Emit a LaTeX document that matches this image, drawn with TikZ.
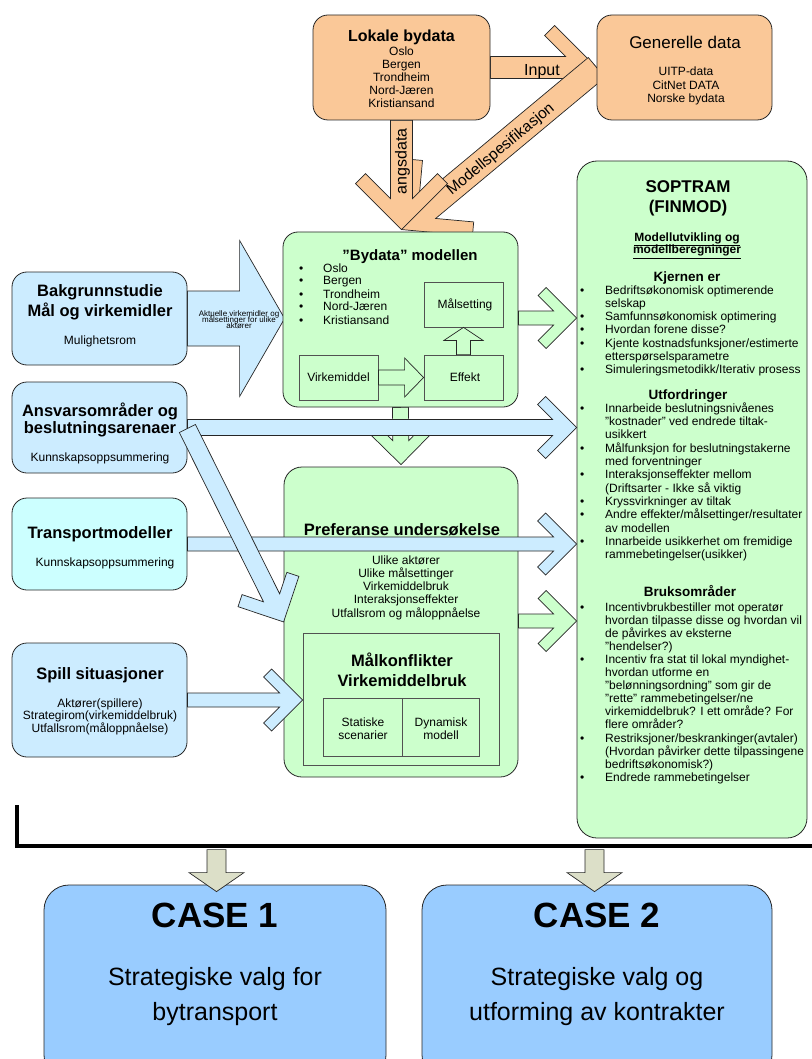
\documentclass[tikz,border=0pt]{standalone}
\usepackage{fontspec}
\setmainfont{Liberation Sans}
\usetikzlibrary{calc}
\definecolor{orfill}{HTML}{FAC898}
\definecolor{grfill}{HTML}{CCFFCC}
\definecolor{blfill}{HTML}{CCECFF}
\definecolor{cyfill}{HTML}{CCFFFF}
\definecolor{csfill}{HTML}{99CCFF}
\definecolor{gyfill}{HTML}{DCDFC8}
\definecolor{lncol}{HTML}{262626}
\pgfdeclarelayer{back}
\pgfsetlayers{back,main}
\newdimen\ChXa \newdimen\ChYa \newdimen\ChXb \newdimen\ChYb
\newcommand\fs[2]{\fontsize{#1}{#2}\selectfont}
\newcommand\blines[4]{\parbox[t]{#1}{\fontsize{#2}{#3}\selectfont\lineskiplimit=-100pt\lineskip=0pt\relax#4}}
\newcommand\bul[1][21pt]{\leavevmode\llap{\textbullet\hspace{#1}}}
\newcommand\ArrGeom[2]{%
  \pgfextractx{\ChXa}{\pgfpointanchor{#1}{center}}%
  \pgfextracty{\ChYa}{\pgfpointanchor{#1}{center}}%
  \pgfextractx{\ChXb}{\pgfpointanchor{#2}{center}}%
  \pgfextracty{\ChYb}{\pgfpointanchor{#2}{center}}%
  \pgfmathsetmacro\ChAng{atan2(\ChYb-\ChYa,\ChXb-\ChXa)}%
  \pgfmathsetmacro\ChL{veclen(\ChXb-\ChXa,\ChYb-\ChYa)}}
% chevron-headed block arrow: style, from, to, half body width, head size, head bar offset
\newcommand\chevarrow[6]{%
  \ArrGeom{#2}{#3}%
  \pgfmathsetmacro\ChJ{\ChL-2*#6-#4}%
  \pgfmathsetmacro\ChWi{\ChL-#5-#6}%
  \pgfmathsetmacro\ChWo{\ChL-#5}%
  \pgfmathsetmacro\ChHi{#5-#6}%
  \begin{scope}[shift={(#2)},rotate=\ChAng]
    \draw[#1] (0pt,-#4pt) -- (\ChJ pt,-#4pt) -- (\ChWi pt,-\ChHi pt) -- (\ChWo pt,-#5pt) -- (\ChL pt,0pt) -- (\ChWo pt,#5pt) -- (\ChWi pt,\ChHi pt) -- (\ChJ pt,#4pt) -- (0pt,#4pt) -- cycle;
  \end{scope}}
% plain block arrow: style, from, to, half body width, half head width, head length
\newcommand\blockarrow[6]{%
  \ArrGeom{#2}{#3}%
  \pgfmathsetmacro\ChB{\ChL-#6}%
  \begin{scope}[shift={(#2)},rotate=\ChAng]
    \draw[#1] (0pt,-#4pt) -- (\ChB pt,-#4pt) -- (\ChB pt,-#5pt) -- (\ChL pt,0pt) -- (\ChB pt,#5pt) -- (\ChB pt,#4pt) -- (0pt,#4pt) -- cycle;
  \end{scope}}
\begin{document}
\begin{tikzpicture}[x=1pt,y=-1pt,
  box/.style={draw=lncol, line width=0.8pt, rounded corners=15pt, inner sep=0pt},
  sqbox/.style={draw=lncol!80, line width=0.8pt, inner sep=0pt},
  arr/.style={draw=lncol, line width=0.7pt, line join=miter},
  T/.style={inner sep=0pt, anchor=base},
  TL/.style={inner sep=0pt, anchor=base west}]
\useasboundingbox (0,0) rectangle (811,1059);

% ---------- top orange boxes
\node[box, fill=orfill, minimum width=177pt, minimum height=105pt] (lok) at (401.5,67.5) {};
\node[T, font=\bfseries\fs{16}{16}] (lokt) at (401.5,42) {Lokale bydata};
\node[T] (loki) at (401.5,56) {\blines{150pt}{12}{13}{\centering Oslo\\Bergen\\Trondheim\\Nord-Jæren\\Kristiansand}};
\node[box, fill=orfill, minimum width=175pt, minimum height=105pt] (gen) at (684.5,67.5) {};
\node[T, font=\fs{17}{17}] (gent) at (685,48.5) {Generelle data};
\node[T] (geni) at (686,76) {\blines{150pt}{12}{13.5}{\centering UITP-data\\CitNet DATA\\Norske bydata}};

% ---------- Bydata model
\node[box, fill=grfill, minimum width=235pt, minimum height=175pt] (byd) at (400.5,319.5) {};
\node[T, font=\bfseries\fs{15}{15}] (bydt) at (410,260) {”Bydata” modellen};
\node[TL] (bydi) at (323,272) {\blines{150pt}{12}{13}{\raggedright\bul[20pt]Oslo\\\bul[20pt]Bergen\\\bul[20pt]Trondheim\\\bul[20pt]Nord-Jæren\\\bul[20pt]Kristiansand}};
\node[sqbox, fill=grfill, minimum width=79pt, minimum height=45pt] (mal) at (463.5,304.5) {};
\node[T, font=\fs{12}{12}] (malt) at (465,308.5) {Målsetting};
\node[sqbox, fill=grfill, minimum width=79pt, minimum height=45pt] (virk) at (338.5,377.5) {};
\node[T, font=\fs{12}{12}] (virkt) at (338.5,381.5) {Virkemiddel};
\node[sqbox, fill=grfill, minimum width=79pt, minimum height=45pt] (eff) at (463.5,377.5) {};
\node[T, font=\fs{12}{12}] (efft) at (465,381.5) {Effekt};
\coordinate (ve1) at (virk.east); \coordinate (ve2) at (eff.west);
\blockarrow{arr, fill=grfill}{ve1}{ve2}{7.5}{19.5}{19}
\coordinate (em1) at (eff.north); \coordinate (em2) at (mal.south);
\blockarrow{arr, fill=grfill}{em1}{em2}{7}{19.5}{13}

% ---------- Preferanse
\node[box, rounded corners=18pt, fill=grfill, minimum width=234pt, minimum height=310pt] (pref) at (401,622) {};
\node[T] (prefi) at (406,564) {\blines{200pt}{12}{13.25}{\centering Ulike aktører\\Ulike målsettinger\\Virkemiddelbruk\\Interaksjonseffekter\\Utfallsrom og måloppnåelse}};
\node[sqbox, fill=grfill, minimum width=196pt, minimum height=132pt] (mk) at (401,699) {};
\node[T] (mkt) at (402,666) {\blines{190pt}{16.5}{20}{\centering\bfseries Målkonflikter\\Virkemiddelbruk}};
\node[sqbox, fill=grfill, minimum width=79pt, minimum height=58pt] (stat) at (362.5,727) {};
\node[T] (statt) at (363,726) {\blines{75pt}{12}{13}{\centering Statiske\\scenarier}};
\node[sqbox, fill=grfill, minimum width=77pt, minimum height=58pt] (dyn) at (440.5,727) {};
\node[T] (dynt) at (441,726) {\blines{75pt}{12}{13}{\centering Dynamisk\\modell}};

% ---------- left boxes
\node[box, fill=blfill, minimum width=175pt, minimum height=93pt] (bak) at (99.5,318.5) {};
\node[T] (bakt) at (100,296) {\blines{170pt}{16.5}{20}{\centering\bfseries Bakgrunnstudie\\Mål og virkemidler}};
\node[T, font=\fs{12}{12}] (bakm) at (100,344) {Mulighetsrom};
\node[box, fill=blfill, minimum width=175pt, minimum height=91pt] (ans) at (99.5,427.5) {};
\node[T] (anst) at (100,416) {\blines{174pt}{16.5}{17}{\centering\bfseries Ansvarsområder og\\beslutningsarenaer}};
\node[T, font=\fs{12}{12}] (ansk) at (100,461) {Kunnskapsoppsummering};
\node[box, fill=cyfill, minimum width=175pt, minimum height=92pt] (tra) at (99.5,544) {};
\node[T, font=\bfseries\fs{16.5}{16.5}] (trat) at (100,538) {Transportmodeller};
\node[T, font=\fs{12}{12}] (trak) at (105,566) {Kunnskapsoppsummering};
\node[box, fill=blfill, minimum width=175pt, minimum height=114pt] (spi) at (99.5,700) {};
\node[T, font=\bfseries\fs{16.5}{16.5}] (spit) at (100,679) {Spill situasjoner};
\node[T] (spii) at (100,707) {\blines{170pt}{12}{12.5}{\centering Aktører(spillere)\\Strategirom(virkemiddelbruk)\\Utfallsrom(måloppnåelse)}};

% ---------- SOPTRAM
\node[box, rounded corners=20pt, fill=grfill, minimum width=230pt, minimum height=677pt] (sop) at (692,499.5) {};
\node[T] (sopt) at (688,193) {\blines{200pt}{17}{20}{\centering\bfseries SOPTRAM\\(FINMOD)}};
\node[T] (sopm) at (687,241) {\blines{200pt}{12}{13}{\centering\bfseries\underline{Modellutvikling og}\\\underline{modellberegninger}}};
\node[T, font=\bfseries\fs{13.5}{13.5}] (sopk) at (687,281) {Kjernen er};
\node[TL] (sopkl) at (605,294) {\blines{210pt}{12}{13.33}{\raggedright
\bul Bedriftsøkonomisk optimerende\\
selskap\\
\bul Samfunnsøkonomisk optimering\\
\bul Hvordan forene disse?\\
\bul Kjente kostnadsfunksjoner/estimerte\\
etterspørselsparametre\\
\bul Simuleringsmetodikk/Iterativ prosess}};
\node[T, font=\bfseries\fs{13.5}{13.5}] (sopu) at (688,399) {Utfordringer};
\node[TL] (sopul) at (605,412) {\blines{210pt}{12}{13.36}{\raggedright
\bul Innarbeide beslutningsnivåenes\\
"kostnader" ved endrede tiltak-\\
usikkert\\
\bul Målfunksjon for beslutningstakerne\\
med forventninger\\
\bul Interaksjonseffekter mellom\\
(Driftsarter - Ikke så viktig\\
\bul Kryssvirkninger av tiltak\\
\bul Andre effekter/målsettinger/resultater\\
av modellen\\
\bul Innarbeide usikkerhet om fremidige\\
rammebetingelser(usikker)}};
\node[T, font=\bfseries\fs{13.5}{13.5}] (sopb) at (690,596) {Bruksområder};
\node[TL] (sopbl) at (605,611) {\blines{210pt}{12}{13.1}{\raggedright
\bul Incentivbrukbestiller mot operatør\\
hvordan tilpasse disse og hvordan vil\\
de påvirkes av eksterne\\
"hendelser?)\\
\bul Incentiv fra stat til lokal myndighet-\\
hvordan utforme en\\
"belønningsordning" som gir de\\
"rette" rammebetingelser/ne\\
virkemiddelbruk? I ett område? For\\
flere områder?\\
\bul Restriksjoner/beskrankinger(avtaler)\\
(Hvordan påvirker dette tilpassingene\\
bedriftsøkonomisk?)\\
\bul Endrede rammebetingelser}};

% ---------- arrows lying under the boxes
\coordinate (inS) at (lok.east); \coordinate (inE) at (gen.west);
\coordinate (msS) at (gen.west); \coordinate (msE) at ($(byd.north)+(1.5,-2)$);
\coordinate (adS) at (lok.south); \coordinate (adE) at ($(byd.north)+(1,-2)$);
\coordinate (bkS) at (bak.east); \coordinate (bkE) at ($(bak.east -| byd.west)+(2,0)$);
\coordinate (gdS) at (byd.south); \coordinate (gdE) at ($(pref.north)+(0,-2)$);
\begin{pgfonlayer}{back}
  \chevarrow{arr, fill=orfill}{inS}{inE}{11}{42}{10}
  \chevarrow{arr, fill=orfill}{msS}{msE}{13}{50}{10}
  \chevarrow{arr, fill=orfill}{adS}{adE}{11}{46}{10}
  \node[T, font=\fs{16}{16}] (int) at (542,75.5) {Input};
  \node[T, rotate=90, font=\fs{16}{16}] (adt) at (406.5,161.5) {angsdata};
  \node[T, rotate=39.8, font=\fs{15.5}{16}] (mst) at (503.5,152.5) {Modellspesifikasjon};
  \blockarrow{arr, fill=blfill}{bkS}{bkE}{27.5}{78}{45}
  \node[T] (bkt) at (239,316.5) {\blines{100pt}{8}{6.2}{\centering Aktuelle virkemidler og\\målsettinger for ulike\\aktører}};
  \chevarrow{arr, fill=grfill}{gdS}{gdE}{8}{30}{8}
\end{pgfonlayer}

% ---------- arrows over the boxes
\coordinate (anS) at (ans.east); \coordinate (anE) at (ans.east -| sop.west);
\chevarrow{arr, fill=blfill}{anS}{anE}{8}{31}{8}
\coordinate (trS) at (tra.east); \coordinate (trE) at (tra.east -| sop.west);
\chevarrow{arr, fill=blfill}{trS}{trE}{7}{31}{8}
\coordinate (spS) at (spi.east); \coordinate (spE) at (spi.east -| mk.west);
\chevarrow{arr, fill=blfill}{spS}{spE}{7}{31}{8}
\coordinate (g1S) at ($(byd.east)+(0,-1.5)$); \coordinate (g1E) at (g1S -| sop.west);
\chevarrow{arr, fill=grfill}{g1S}{g1E}{7}{30.5}{8}
\coordinate (g2S) at ($(pref.east)+(0,-1)$); \coordinate (g2E) at (g2S -| sop.west);
\chevarrow{arr, fill=grfill}{g2S}{g2E}{7}{30.5}{8}
\coordinate (dgS) at ($(ans.east)+(0,1)$); \coordinate (dgE) at (pref.west);
\chevarrow{arr, fill=blfill}{dgS}{dgE}{9}{34}{9}
\node[T, font=\bfseries\fs{16.5}{16.5}] (preft) at (402,535.5) {Preferanse undersøkelse};

% ---------- bottom
\coordinate (barA) at (17,805); \coordinate (barB) at (17,846); \coordinate (barC) at (816,846);
\draw[line width=4pt, black] (barA) -- (barB) -- (barC);
\node[box, rounded corners=25pt, fill=csfill, minimum width=342pt, minimum height=195pt] (case1) at (215,982.5) {};
\node[box, rounded corners=25pt, fill=csfill, minimum width=350pt, minimum height=195pt] (case2) at (597,982.5) {};
\coordinate (b1S) at ($(case1.north)+(1.5,-35)$); \coordinate (b1E) at ($(case1.north)+(1.5,7)$);
\blockarrow{arr, fill=gyfill}{b1S}{b1E}{9.5}{27.5}{19}
\coordinate (b2S) at ($(case2.north)+(-2.5,-35)$); \coordinate (b2E) at ($(case2.north)+(-2.5,7)$);
\blockarrow{arr, fill=gyfill}{b2S}{b2E}{9.5}{27.5}{19}
\node[T, font=\bfseries\fs{35}{35}] (c1t) at (215,927) {CASE 1};
\node[T] (c1d) at (215,985) {\blines{340pt}{25}{35}{\centering Strategiske valg for\\bytransport}};
\node[T, font=\bfseries\fs{35}{35}] (c2t) at (597,927) {CASE 2};
\node[T] (c2d) at (597,985) {\blines{340pt}{25}{35}{\centering Strategiske valg og\\utforming av kontrakter}};
\end{tikzpicture}
\end{document}
